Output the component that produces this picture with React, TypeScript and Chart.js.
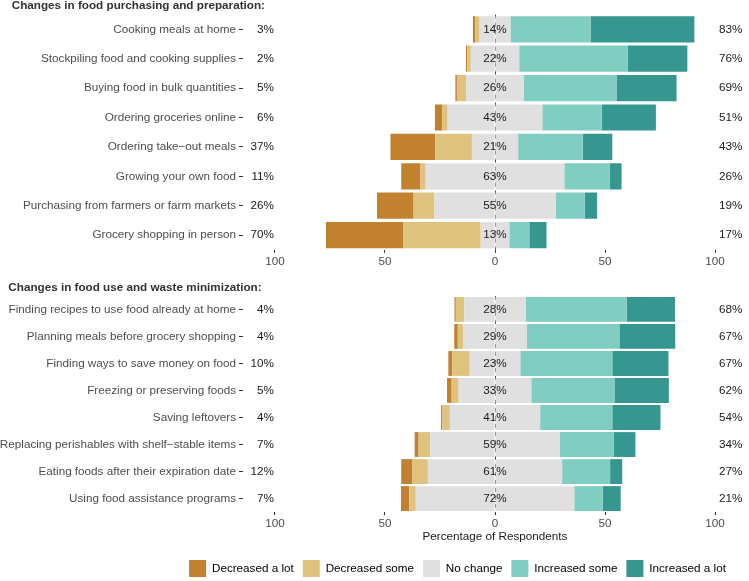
import React, { useEffect, useRef } from "react";
import { Chart, registerables } from "chart.js";
Chart.register(...registerables);

const FONT = '"Liberation Sans", Arial, Helvetica, sans-serif';
const FS = 11.7;

// ---- Panel 1: purchasing & preparation ----
const purchCats = [
  "Cooking meals at home",
  "Stockpiling food and cooking supplies",
  "Buying food in bulk quantities",
  "Ordering groceries online",
  "Ordering take\u2212out meals",
  "Growing your own food",
  "Purchasing from farmers or farm markets",
  "Grocery shopping in person",
];
const purchDecLot = [1, 0.6, 0.7, 3.3, 20.3, 8.7, 16.6, 35];
const purchDecSome = [2, 1.6, 4.3, 2.5, 16.7, 2.4, 9.5, 35.3];
const purchNoChange = [14, 22, 26, 43, 21, 63, 55, 13];
const purchIncSome = [36.4, 49.4, 42.2, 27, 29.4, 20.7, 13.3, 9.1];
const purchIncLot = [47.2, 27, 27.3, 24.6, 13.4, 5.3, 5.6, 7.8];
const purchDecLabels = ["3%", "2%", "5%", "6%", "37%", "11%", "26%", "70%"];
const purchNeutralLabels = ["14%", "22%", "26%", "43%", "21%", "63%", "55%", "13%"];
const purchIncLabels = ["83%", "76%", "69%", "51%", "43%", "26%", "19%", "17%"];

// ---- Panel 2: use & waste minimization ----
const wasteCats = [
  "Finding recipes to use food already at home",
  "Planning meals before grocery shopping",
  "Finding ways to save money on food",
  "Freezing or preserving foods",
  "Saving leftovers",
  "Replacing perishables with shelf\u2212stable items",
  "Eating foods after their expiration date",
  "Using food assistance programs",
];
const wasteDecLot = [0.6, 1.6, 1.8, 2.1, 0.6, 1.8, 4.9, 3.7];
const wasteDecSome = [3.8, 2.4, 7.9, 3.2, 3.4, 5.2, 7.2, 3];
const wasteNoChange = [28, 29, 23, 33, 41, 59, 61, 72];
const wasteIncSome = [45.8, 42, 41.8, 38, 32.8, 24.4, 21.8, 13];
const wasteIncLot = [22, 25.4, 25.5, 24.5, 21.9, 9.9, 5.5, 8.1];
const wasteDecLabels = ["4%", "4%", "10%", "5%", "4%", "7%", "12%", "7%"];
const wasteNeutralLabels = ["28%", "29%", "23%", "33%", "41%", "59%", "61%", "72%"];
const wasteIncLabels = ["68%", "67%", "67%", "62%", "54%", "34%", "27%", "21%"];

const seriesNames = ["Decreased a lot", "Decreased some", "No change", "Increased some", "Increased a lot"];
const seriesColors = ["#C2812F", "#DFC27D", "#E0E0E0", "#80CDC1", "#35978F"];
const xTickValues = [-100, -50, 0, 50, 100];
const xMin = -114.5;
const xMax = 114.5;

function buildDatasets(decLot: number[], decSome: number[], noChange: number[], incSome: number[], incLot: number[], barPct: number) {
  const half = noChange.map((v) => v / 2);
  const base = { barPercentage: barPct, categoryPercentage: 1, borderWidth: 0 };
  return [
    { ...base, label: seriesNames[2], data: half.map((v) => -v), backgroundColor: seriesColors[2] },
    { ...base, label: seriesNames[1], data: decSome.map((v) => -v), backgroundColor: seriesColors[1] },
    { ...base, label: seriesNames[0], data: decLot.map((v) => -v), backgroundColor: seriesColors[0] },
    { ...base, label: seriesNames[2], data: half, backgroundColor: seriesColors[2] },
    { ...base, label: seriesNames[3], data: incSome, backgroundColor: seriesColors[3] },
    { ...base, label: seriesNames[4], data: incLot, backgroundColor: seriesColors[4] },
  ];
}

function annotPlugin(cfg: any) {
  return {
    id: "annot",
    afterLayout(chart: any) {
      if (cfg.legend && chart.legend) {
        chart.legend.left = cfg.legendLeft;
        chart.legend.right = cfg.legendRight;
        chart.legend.width = cfg.legendRight - cfg.legendLeft;
      }
    },
    beforeDatasetsDraw(chart: any) {
      const { ctx, chartArea, scales } = chart;
      const px = Math.round(scales.x.getPixelForValue(0)) + 0.5;
      ctx.save();
      ctx.strokeStyle = "#4D4D4D";
      ctx.lineWidth = 1;
      ctx.setLineDash([4, 4]);
      ctx.beginPath();
      ctx.moveTo(px, chartArea.top);
      ctx.lineTo(px, chartArea.bottom);
      ctx.stroke();
      ctx.restore();
    },
    afterDatasetsDraw(chart: any) {
      const { ctx, scales } = chart;
      const x = scales.x;
      const y = scales.y;
      ctx.save();
      ctx.font = `${FS}px ${FONT}`;
      ctx.fillStyle = "#1A1A1A";
      ctx.textBaseline = "middle";
      cfg.neutral.forEach((t: string, i: number) => {
        const py = y.getPixelForValue(i);
        ctx.textAlign = "center";
        ctx.fillText(t, x.getPixelForValue(0), py);
        ctx.textAlign = "right";
        ctx.fillText(cfg.dec[i], x.getPixelForValue(-100) - 1, py);
        ctx.textAlign = "left";
        ctx.fillText(cfg.inc[i], x.getPixelForValue(100) + 4, py);
      });
      ctx.font = `bold ${FS}px ${FONT}`;
      ctx.fillStyle = "#333333";
      ctx.textAlign = "left";
      ctx.textBaseline = "alphabetic";
      ctx.fillText(cfg.title, cfg.titleX, cfg.titleY);
      ctx.restore();
    },
  };
}

function makeConfig(cfg: any): any {
  return {
    type: "bar",
    data: { labels: cfg.cats, datasets: cfg.datasets },
    plugins: [annotPlugin(cfg)],
    options: {
      indexAxis: "y",
      animation: false,
      responsive: false,
      maintainAspectRatio: false,
      events: [],
      layout: { padding: { left: 0, right: 2, top: cfg.padTop, bottom: 0 } },
      scales: {
        x: {
          stacked: true,
          min: xMin,
          max: xMax,
          afterBuildTicks: (s: any) => {
            s.ticks = xTickValues.map((v) => ({ value: v }));
          },
          afterFit: (s: any) => {
            s.height = cfg.xHeight;
          },
          ticks: {
            callback: (v: any) => String(Math.abs(Number(v))),
            color: "#4D4D4D",
            font: { family: FONT, size: FS },
            padding: 2,
            maxRotation: 0,
            autoSkip: false,
          },
          grid: { drawOnChartArea: false, drawTicks: true, tickLength: 3, color: "#333333", lineWidth: 1 },
          border: { display: false },
          title: cfg.xTitle
            ? {
                display: true,
                text: cfg.xTitle,
                color: "#1A1A1A",
                font: { family: FONT, size: FS },
                padding: { top: 0, bottom: 7 },
              }
            : { display: false },
        },
        y: {
          stacked: true,
          afterFit: (s: any) => {
            s.width = 243;
          },
          ticks: { color: "#4D4D4D", font: { family: FONT, size: FS }, padding: 3, autoSkip: false },
          grid: { drawOnChartArea: false, drawTicks: true, tickLength: 4, color: "#333333", offset: false },
          border: { display: false },
        },
      },
      plugins: {
        tooltip: { enabled: false },
        title: { display: false },
        legend: cfg.legend
          ? {
              display: true,
              position: "bottom",
              onClick: () => {},
              labels: {
                boxWidth: 17,
                boxHeight: 17,
                padding: 9,
                color: "#1A1A1A",
                font: { family: FONT, size: FS },
                generateLabels: () =>
                  seriesNames.map((n, i) => ({
                    text: n,
                    fillStyle: seriesColors[i],
                    strokeStyle: seriesColors[i],
                    lineWidth: 0,
                    hidden: false,
                    datasetIndex: i,
                  })),
              },
            }
          : { display: false },
      },
    },
  };
}

export default function App() {
  const topRef = useRef<HTMLCanvasElement>(null);
  const botRef = useRef<HTMLCanvasElement>(null);

  useEffect(() => {
    const top = new Chart(
      topRef.current!,
      makeConfig({
        cats: purchCats,
        datasets: buildDatasets(purchDecLot, purchDecSome, purchNoChange, purchIncSome, purchIncLot, 0.89),
        neutral: purchNeutralLabels,
        dec: purchDecLabels,
        inc: purchIncLabels,
        title: "Changes in food purchasing and preparation:",
        titleX: 11.7,
        titleY: 8.6,
        padTop: 14.6,
        xHeight: 275 - 249.8,
        legend: false,
      })
    );
    const bot = new Chart(
      botRef.current!,
      makeConfig({
        cats: wasteCats,
        datasets: buildDatasets(wasteDecLot, wasteDecSome, wasteNoChange, wasteIncSome, wasteIncLot, 0.92),
        neutral: wasteNeutralLabels,
        dec: wasteDecLabels,
        inc: wasteIncLabels,
        title: "Changes in food use and waste minimization:",
        titleX: 8.3,
        titleY: 290.5 - 275,
        padTop: 295.9 - 275,
        xHeight: 550 - 511.1,
        xTitle: "Percentage of Respondents",
        legend: true,
        legendLeft: 168,
        legendRight: 747,
      })
    );
    return () => {
      top.destroy();
      bot.destroy();
    };
  }, []);

  return (
    <div
      style={{
        position: "fixed",
        left: 0,
        top: 0,
        width: 749,
        height: 581,
        overflow: "hidden",
        background: "#ffffff",
      }}
    >
      <canvas ref={topRef} width={749} height={275} style={{ position: "absolute", left: 0, top: 0, display: "block" }} />
      <canvas ref={botRef} width={749} height={312} style={{ position: "absolute", left: 0, top: 275, display: "block" }} />
    </div>
  );
}
